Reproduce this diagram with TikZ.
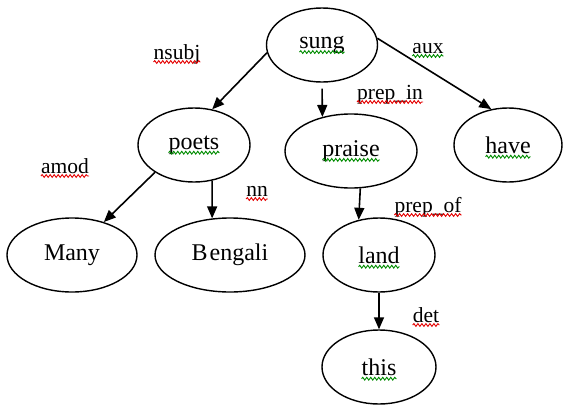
\documentclass[tikz,border=0pt]{standalone}
\usepackage{fontspec}
\setmainfont{Liberation Serif}
\usetikzlibrary{shapes.geometric,arrows.meta,decorations.pathmorphing,calc}
% wavy underline below the text of an ellipse node: #1 style, #2 node, #3 text width
\newcommand\wordwave[3]{%
  \draw[#1] ([xshift=-#3/2,yshift=-3.5pt]#2.base) -- ([xshift=#3/2,yshift=-3.5pt]#2.base);}
% wavy underline below a relation label: #1 style, #2 node
\newcommand\relwave[2]{%
  \draw[#1] ([yshift=-3pt]#2.base west) -- ([yshift=-3pt]#2.base east);}
\begin{document}
\begin{tikzpicture}[x=1pt,y=-1pt,
  word/.style={ellipse,draw,line width=1.4pt,inner sep=0pt,minimum height=74pt,
    font=\fontsize{24}{27}\selectfont},
  dep/.style={-{Triangle[length=12pt,width=10pt]},line width=1.6pt},
  rel/.style={inner sep=0pt,anchor=base,font=\fontsize{21.5}{24}\selectfont},
  wave/.style={line width=0.9pt,decorate,
    decoration={snake,amplitude=1.4pt,segment length=4pt}},
  spell/.style={wave,red!90!black},
  grammar/.style={wave,green!55!black}]
\useasboundingbox[fill=white] (0,0) rectangle (563,405);

% words of the sentence
\node[word,minimum width=111pt] (sung)    at (322,45)  {sung};
\node[word,minimum width=112pt] (poets)   at (194,145) {poets};
\node[word,minimum width=132pt] (praise)  at (351,151) {praise};
\node[word,minimum width=108pt] (have)    at (508,145) {have};
\node[word,minimum width=130pt] (many)    at (72,255)  {Many};
\node[word,minimum width=150pt] (bengali) at (230,255) {B\kern2pt engali};
\node[word,minimum width=112pt] (land)    at (379,255) {land};
\node[word,minimum width=114pt] (this)    at (379,367) {this};

% dependencies
\draw[dep] (sung.188) -- (poets.63);
\draw[dep,shorten <=6pt] (sung.south) -- (praise.130);
\draw[dep] (sung.7) -- (have.115);
\draw[dep] (poets.215) -- (many.46);
\draw[dep] (poets.297) -- (bengali.116);
\draw[dep] (praise.284) -- (land.120);
\draw[dep] (land.south) -- (this.north);

% relation labels
\node[rel] (r-nsubj)  at (177,59)  {nsubj};
\node[rel] (r-prepin) at (390,99)  {prep\_in};
\node[rel] (r-aux)    at (428,53)  {aux};
\node[rel] (r-amod)   at (65,173)  {amod};
\node[rel] (r-nn)     at (257,196) {nn};
\node[rel] (r-prepof) at (428,212) {prep\_of};
\node[rel] (r-det)    at (426,322) {det};

% proofing marks
\wordwave{grammar}{sung}{45pt}
\wordwave{grammar}{poets}{51pt}
\wordwave{grammar}{praise}{57pt}
\wordwave{grammar}{have}{45pt}
\wordwave{grammar}{land}{41pt}
\wordwave{grammar}{this}{35pt}
\relwave{spell}{r-nsubj}
\relwave{spell}{r-prepin}
\relwave{grammar}{r-aux}
\relwave{spell}{r-amod}
\relwave{spell}{r-nn}
\relwave{spell}{r-prepof}
\relwave{spell}{r-det}
\end{tikzpicture}
\end{document}
